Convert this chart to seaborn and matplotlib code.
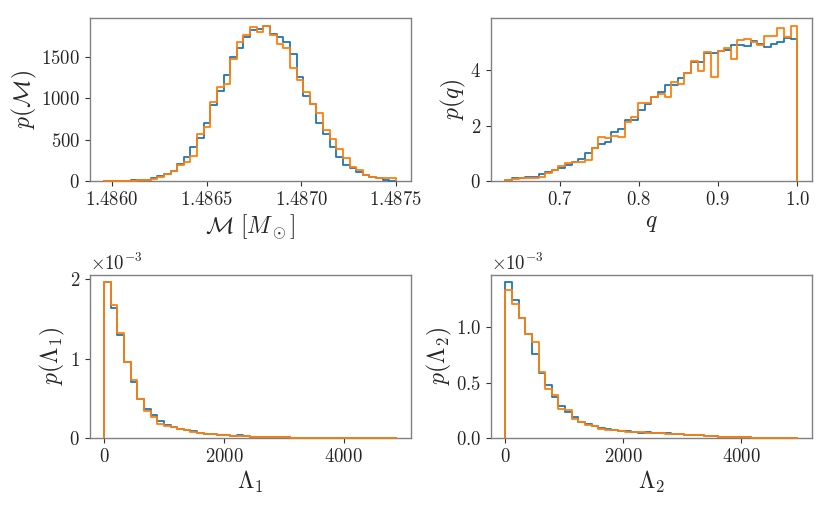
import numpy as np
import pandas as pd
import matplotlib
matplotlib.use("Agg")
import matplotlib.pyplot as plt
import seaborn as sns
from matplotlib.ticker import MultipleLocator, ScalarFormatter

# bin ranges (low, high) and number of bins
mc_range = (1.48596, 1.48750)
q_range = (0.6315, 1.0)
lam1_range = (0.0, 4870.0)
lam2_range = (0.0, 4950.0)
n_bins = 44

# chirp mass density, two runs
mc_blue = [2, 3, 5, 8, 12, 18, 22,
           40, 60, 90, 130, 210, 298, 419, 521, 702, 915, 1095, 1283, 1496, 1604, 1745, 1825, 1840, 1870,
           1776, 1736, 1685, 1536, 1263, 1031, 935, 702, 573, 419, 298, 198, 158, 118, 78, 50, 38, 18, 10]
mc_orange = [1, 2, 3, 6, 10, 15, 20,
             28, 50, 85, 125, 198, 240, 306, 569, 654, 951, 1143, 1171, 1472, 1685, 1760, 1865, 1800, 1875,
             1765, 1656, 1604, 1364, 1223, 1075, 935, 830, 622, 509, 393, 278, 178, 138, 78, 58, 38, 38, 38]

# mass ratio density
q_blue = [0.06, 0.12, 0.14, 0.16, 0.16, 0.25, 0.35, 0.41, 0.48, 0.60, 0.68, 0.82, 1.02, 1.19, 1.34,
          1.41, 1.77, 1.89, 2.19, 2.19, 2.57, 2.78, 3.02, 3.21, 3.45, 3.45, 3.71, 3.89, 4.28, 4.28,
          4.61, 4.61, 4.67, 4.73, 4.91, 4.91, 4.85, 5.03, 4.93, 4.82, 4.94, 5.00, 5.15, 5.11]
q_orange = [0.06, 0.08, 0.12, 0.14, 0.14, 0.15, 0.30, 0.41, 0.55, 0.66, 0.68, 0.68, 0.78, 1.19, 1.59,
            1.56, 1.64, 1.59, 2.12, 2.30, 2.81, 2.81, 3.02, 3.14, 3.02, 3.57, 3.51, 3.89, 4.31, 3.97,
            4.64, 3.74, 4.69, 4.79, 4.40, 5.09, 5.13, 5.00, 4.91, 5.21, 5.21, 5.50, 5.18, 5.59]

# tidal deformability densities (units of 1e-3)
lam1_blue = [1.957, 1.633, 1.296, 0.955, 0.702, 0.492, 0.366, 0.285, 0.210, 0.168, 0.139, 0.114,
             0.097, 0.084, 0.063, 0.055, 0.046, 0.042, 0.034, 0.030, 0.034, 0.025, 0.020, 0.017,
             0.014, 0.012, 0.010, 0.008, 0.007, 0.006, 0.005, 0.004, 0.004, 0.003, 0.003, 0.002,
             0.002, 0.002, 0.001, 0.001, 0.001, 0.001, 0.0005, 0.0005]
lam1_orange = [1.957, 1.675, 1.325, 0.955, 0.736, 0.492, 0.345, 0.265, 0.180, 0.156, 0.139, 0.114,
               0.105, 0.076, 0.063, 0.052, 0.046, 0.040, 0.034, 0.028, 0.021, 0.022, 0.019, 0.016,
               0.013, 0.011, 0.009, 0.008, 0.006, 0.005, 0.005, 0.004, 0.003, 0.003, 0.002, 0.002,
               0.002, 0.001, 0.001, 0.001, 0.001, 0.0005, 0.0005, 0.0005]
lam2_blue = [1.404, 1.244, 1.081, 0.942, 0.755, 0.588, 0.483, 0.368, 0.287, 0.235, 0.187, 0.148,
             0.130, 0.106, 0.091, 0.085, 0.070, 0.067, 0.064, 0.058, 0.049, 0.052, 0.048, 0.045,
             0.042, 0.038, 0.035, 0.032, 0.028, 0.025, 0.020, 0.017, 0.014, 0.011, 0.009, 0.008,
             0.006, 0.005, 0.004, 0.003, 0.002, 0.002, 0.001, 0.001]
lam2_orange = [1.337, 1.207, 1.087, 0.942, 0.866, 0.597, 0.447, 0.386, 0.266, 0.256, 0.175, 0.148,
               0.121, 0.106, 0.082, 0.070, 0.076, 0.067, 0.058, 0.058, 0.052, 0.050, 0.047, 0.044,
               0.041, 0.037, 0.034, 0.031, 0.027, 0.024, 0.021, 0.017, 0.013, 0.012, 0.010, 0.008,
               0.007, 0.005, 0.004, 0.003, 0.002, 0.002, 0.001, 0.001]

sns.set_style("white")
plt.rcParams["font.family"] = ["serif"]
plt.rcParams["font.serif"] = ["cmr10", "DejaVu Serif"]
plt.rcParams["mathtext.fontset"] = "cm"
plt.rcParams["axes.formatter.use_mathtext"] = True

COLORS = ["#1f77b4", "#ff7f0e"]


def step_hist(ax, lohi, series, scale=1.0):
    edges = np.linspace(lohi[0], lohi[1], n_bins + 1)
    centers = 0.5 * (edges[:-1] + edges[1:])
    for vals, col in zip(series, COLORS):
        df = pd.DataFrame({"x": centers, "w": np.asarray(vals) * scale})
        sns.histplot(data=df, x="x", weights="w", bins=list(edges), element="step", fill=False,
                     color=col, lw=1.3, zorder=3, clip_on=False, ax=ax)
        # close the outline at both ends like a matplotlib step histogram
        ax.vlines([edges[0], edges[-1]], 0, [df.w.iloc[0], df.w.iloc[-1]], color=col, lw=1.3,
                  zorder=3, clip_on=False)
    ax.set_ylim(bottom=0)


def style_axes(ax):
    for s in ax.spines.values():
        s.set_color("#808080")
        s.set_linewidth(1.0)
    ax.tick_params(axis="both", which="major", direction="out", length=3.5, width=0.8,
                   color="#333333", labelsize=13.5, bottom=True, left=True)


fig, axes = plt.subplots(2, 2, figsize=(8.3, 5.13), dpi=100)
fig.subplots_adjust(left=0.108, right=0.978, top=0.965, bottom=0.146, wspace=0.25, hspace=0.57)

ax = axes[0, 0]
step_hist(ax, mc_range, [mc_blue, mc_orange])
ax.xaxis.set_major_locator(MultipleLocator(0.0005))
ax.xaxis.set_major_formatter(ScalarFormatter(useOffset=False))
ax.set_xlabel(r"$\mathcal{M}\ [M_\odot]$", fontsize=17, labelpad=2)
ax.set_ylabel(r"$p(\mathcal{M})$", fontsize=17, labelpad=1.5)

ax = axes[0, 1]
step_hist(ax, q_range, [q_blue, q_orange])
ax.xaxis.set_major_locator(MultipleLocator(0.1))
ax.yaxis.set_major_locator(MultipleLocator(2))
ax.set_xlabel(r"$q$", fontsize=17, labelpad=2)
ax.set_ylabel(r"$p(q)$", fontsize=17, labelpad=1.5)

ax = axes[1, 0]
step_hist(ax, lam1_range, [lam1_blue, lam1_orange], scale=1e-3)
ax.xaxis.set_major_locator(MultipleLocator(2000))
ax.ticklabel_format(axis="y", style="sci", scilimits=(0, 0))
ax.set_xlabel(r"$\Lambda_1$", fontsize=17, labelpad=2)
ax.set_ylabel(r"$p(\Lambda_1)$", fontsize=17, labelpad=1.5)

ax = axes[1, 1]
step_hist(ax, lam2_range, [lam2_blue, lam2_orange], scale=1e-3)
ax.xaxis.set_major_locator(MultipleLocator(2000))
ax.ticklabel_format(axis="y", style="sci", scilimits=(0, 0))
ax.set_xlabel(r"$\Lambda_2$", fontsize=17, labelpad=2)
ax.set_ylabel(r"$p(\Lambda_2)$", fontsize=17, labelpad=1.5)

for ax in axes.flat:
    style_axes(ax)
    ax.yaxis.get_offset_text().set_fontsize(13.5)

fig.savefig("out.png", dpi=100)
